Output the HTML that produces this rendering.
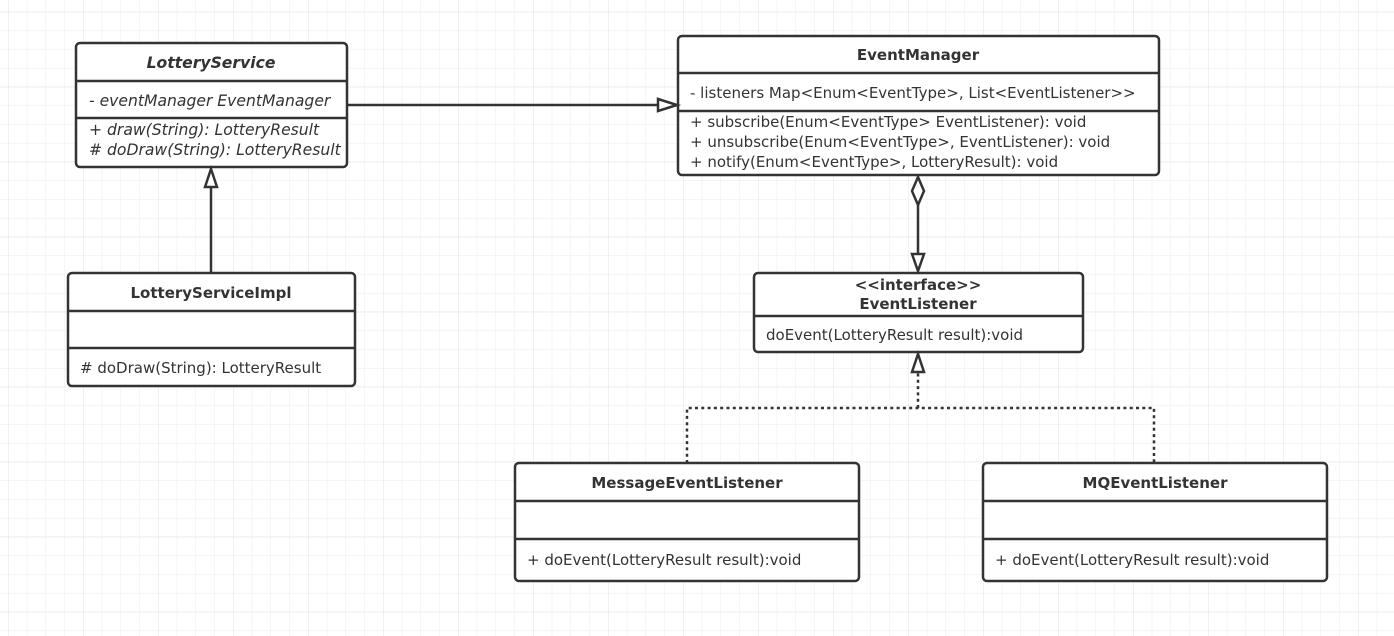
<!DOCTYPE html>
<html><head><meta charset="utf-8"><style>
html,body{margin:0;padding:0;background:#fff}
svg{display:block}
text{font-family:"DejaVu Sans","Liberation Sans",sans-serif;font-size:15px;fill:#333}
.b{font-weight:bold}
.i{font-style:italic;font-size:15.6px}
</style></head><body>
<svg width="1394" height="636" viewBox="0 0 1394 636" xmlns="http://www.w3.org/2000/svg">
<defs>
<pattern id="g" x="8" y="11.7" width="18.75" height="18.75" patternUnits="userSpaceOnUse">
<path d="M0 0V18.75M0 0H18.75" stroke="#ececec" stroke-width="1" fill="none"/>
</pattern>
<pattern id="G" x="8" y="11.7" width="75" height="75" patternUnits="userSpaceOnUse">
<path d="M0 0V75M0 0H75" stroke="#e2e2e2" stroke-width="1" fill="none"/>
</pattern>
</defs>
<rect width="1394" height="636" fill="url(#g)"/>
<rect width="1394" height="636" fill="url(#G)"/>
<g stroke="#333" stroke-width="2.5" fill="#fff">
<rect x="76" y="43" width="271" height="124" rx="4"/>
<line x1="76" y1="81" x2="347" y2="81"/><line x1="76" y1="118" x2="347" y2="118"/>
<rect x="678" y="36" width="481" height="139" rx="4"/>
<line x1="678" y1="73" x2="1159" y2="73"/><line x1="678" y1="111" x2="1159" y2="111"/>
<rect x="754" y="273" width="329" height="79" rx="4"/>
<line x1="754" y1="316" x2="1083" y2="316"/>
<rect x="68" y="273" width="287" height="113" rx="4"/>
<line x1="68" y1="311" x2="355" y2="311"/><line x1="68" y1="348" x2="355" y2="348"/>
<rect x="515" y="463" width="344" height="118" rx="4"/>
<line x1="515" y1="501" x2="859" y2="501"/><line x1="515" y1="539" x2="859" y2="539"/>
<rect x="983" y="463" width="344" height="118" rx="4"/>
<line x1="983" y1="501" x2="1327" y2="501"/><line x1="983" y1="539" x2="1327" y2="539"/>
</g>
<g stroke="#333" stroke-width="2.5" fill="none">
<line x1="347" y1="105" x2="658" y2="105"/>
<path d="M658 99L677 105L658 111Z" fill="#fff"/>
<line x1="211" y1="273" x2="211" y2="187"/>
<path d="M205 187L211 169L217 187Z" fill="#fff"/>
<path d="M918 177L924 191L918 205L912 191Z" fill="#fff"/>
<line x1="918" y1="205" x2="918" y2="271"/>
<path d="M912 254L918 271L924 254Z" fill="#fff"/>
<path d="M687 463V408H1154V463M918 408V372" stroke-dasharray="3 3.3"/>
<path d="M912 372L918 354L924 372Z" fill="#fff"/>
</g>
<text x="211" y="68" text-anchor="middle" class="b i">LotteryService</text>
<text x="89" y="106" class="i">- eventManager EventManager</text>
<text x="89" y="135" class="i">+ draw(String): LotteryResult</text>
<text x="89" y="155" class="i"># doDraw(String): LotteryResult</text>
<text x="918" y="60" text-anchor="middle" class="b">EventManager</text>
<text x="690" y="98">- listeners Map&lt;Enum&lt;EventType&gt;, List&lt;EventListener&gt;&gt;</text>
<text x="690" y="127">+ subscribe(Enum&lt;EventType&gt; EventListener): void</text>
<text x="690" y="147">+ unsubscribe(Enum&lt;EventType&gt;, EventListener): void</text>
<text x="690" y="167">+ notify(Enum&lt;EventType&gt;, LotteryResult): void</text>
<text x="918" y="290" text-anchor="middle" class="b">&lt;&lt;interface&gt;&gt;</text>
<text x="918" y="309" text-anchor="middle" class="b">EventListener</text>
<text x="766" y="340">doEvent(LotteryResult result):void</text>
<text x="211" y="298" text-anchor="middle" class="b">LotteryServiceImpl</text>
<text x="80" y="373"># doDraw(String): LotteryResult</text>
<text x="687" y="488" text-anchor="middle" class="b">MessageEventListener</text>
<text x="527" y="565">+ doEvent(LotteryResult result):void</text>
<text x="1155" y="488" text-anchor="middle" class="b">MQEventListener</text>
<text x="995" y="565">+ doEvent(LotteryResult result):void</text>
</svg>
</body></html>
